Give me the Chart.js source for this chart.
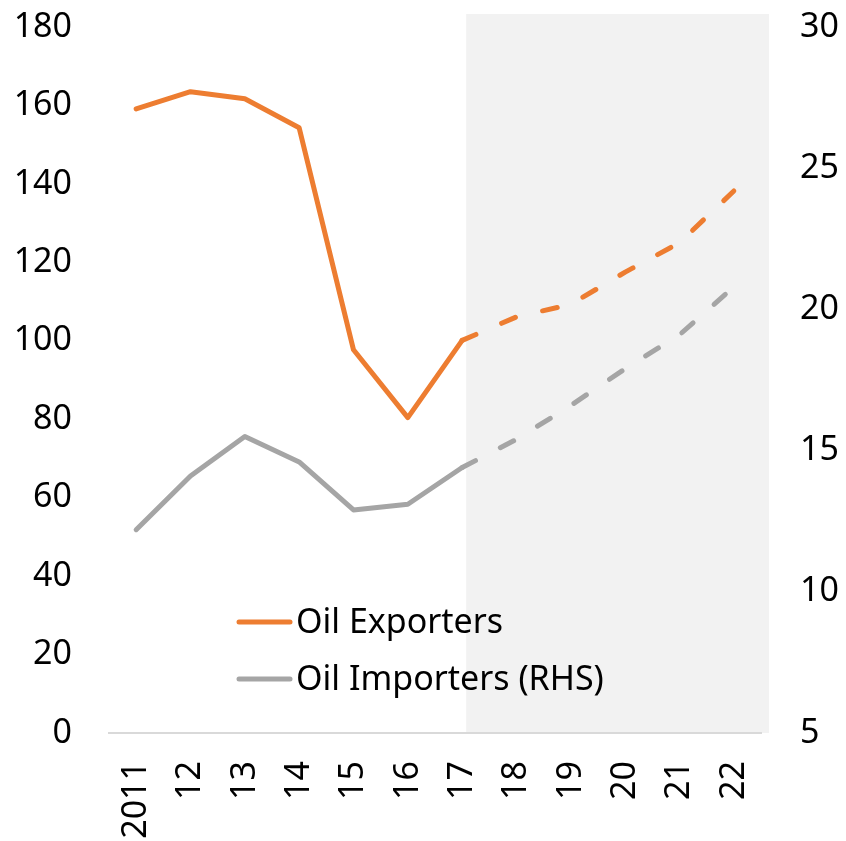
<!DOCTYPE html>
<html>
<head>
<meta charset="utf-8">
<script src="https://cdn.jsdelivr.net/npm/chart.js@4.4.1/dist/chart.umd.min.js"></script>
<style>
  html, body { margin: 0; padding: 0; background: #fff; }
  #wrap { width: 846px; height: 841px; position: relative; }
</style>
</head>
<body>
<div id="wrap"><canvas id="chart"></canvas></div>
<script>
/* ==========================
   data
   ========================== */
const years = ["2011", "12", "13", "14", "15", "16", "17", "18", "19", "20", "21", "22"];
const oilExporters = [159.1, 163.5, 161.7, 154.3, 97.7, 80.4, 100.1, 106.1, 109.3, 117.5, 125.0, 138.2];
const oilImporters = [12.2, 14.1, 15.5, 14.6, 12.9, 13.1, 14.4, 15.4, 16.6, 17.9, 19.1, 20.8];
const leftTicks = [0, 20, 40, 60, 80, 100, 120, 140, 160, 180];
const rightTicks = [5, 10, 15, 20, 25, 30];
const forecastFrom = 6; // "17" onwards is projection (dashed + shaded)

const FONT = "'Noto Sans', 'Open Sans', sans-serif";
const ORANGE = "#ED7D31";
const GREY = "#A5A5A5";

const dashAfter = (ctx) => ctx.p0DataIndex >= forecastFrom ? [15, 28] : undefined;

/* ==========================
   plugins: shaded projection area + legend inside plot
   ========================== */
const shadePlugin = {
  id: "shade",
  beforeDraw(chart) {
    const ctx = chart.ctx, area = chart.chartArea, x = chart.scales.x;
    const left = x.getPixelForValue(forecastFrom) + 4;
    ctx.save();
    ctx.fillStyle = "#F2F2F2";
    ctx.fillRect(left, area.top - 13, area.right + 8 - left, area.bottom - area.top + 13);
    ctx.restore();
  }
};

const legendPlugin = {
  id: "innerLegend",
  afterDatasetsDraw(chart) {
    const ctx = chart.ctx;
    ctx.save();
    ctx.font = "34px " + FONT;
    ctx.textBaseline = "middle";
    chart.data.datasets.forEach((ds, i) => {
      const y = 622 + i * 57;
      ctx.strokeStyle = ds.borderColor;
      ctx.lineWidth = 5;
      ctx.lineCap = "round";
      ctx.beginPath();
      ctx.moveTo(239, y);
      ctx.lineTo(290, y);
      ctx.stroke();
      ctx.fillStyle = "#000";
      ctx.fillText(ds.label, 296, y + 1);
    });
    ctx.restore();
  }
};

// y axes: fixed width, keep the plot top at 27px
function fitY(width) {
  return (s) => { s.width = width; s.paddingTop = 27; s.paddingBottom = 0; };
}

/* ==========================
   chart
   ========================== */
new Chart(document.getElementById("chart"), {
  type: "line",
  data: {
    labels: years,
    datasets: [
      {
        label: "Oil Exporters",
        data: oilExporters,
        yAxisID: "y",
        borderColor: ORANGE,
        borderWidth: 5,
        borderCapStyle: "round",
        borderJoinStyle: "round",
        pointRadius: 0,
        segment: { borderDash: dashAfter }
      },
      {
        label: "Oil Importers (RHS)",
        data: oilImporters,
        yAxisID: "y2",
        borderColor: GREY,
        borderWidth: 5,
        borderCapStyle: "round",
        borderJoinStyle: "round",
        pointRadius: 0,
        segment: { borderDash: dashAfter }
      }
    ]
  },
  options: {
    responsive: true,
    maintainAspectRatio: false,
    animation: false,
    layout: { padding: 0 },
    plugins: { legend: { display: false }, tooltip: { enabled: false } },
    scales: {
      x: {
        offset: true,
        grid: { display: false, drawTicks: false, offset: true },
        border: { display: true, color: "#D9D9D9", width: 2 },
        ticks: {
          color: "#000",
          font: { family: FONT, size: 34 },
          minRotation: 90,
          maxRotation: 90,
          padding: 28,
          autoSkip: false
        },
        afterFit(s) { s.height = 108; }
      },
      y: {
        position: "left",
        min: 0,
        max: 180,
        afterBuildTicks(s) { s.ticks = leftTicks.map(v => ({ value: v })); },
        grid: { display: false, drawTicks: false },
        border: { display: false },
        ticks: { color: "#000", font: { family: FONT, size: 34 }, padding: 37 },
        afterFit: fitY(109)
      },
      y2: {
        position: "right",
        min: 5,
        max: 30,
        afterBuildTicks(s) { s.ticks = rightTicks.map(v => ({ value: v })); },
        grid: { display: false, drawTicks: false },
        border: { display: false },
        ticks: { color: "#000", font: { family: FONT, size: 34 }, padding: 39 },
        afterFit: fitY(85)
      }
    }
  },
  plugins: [shadePlugin, legendPlugin]
});
</script>
</body>
</html>
